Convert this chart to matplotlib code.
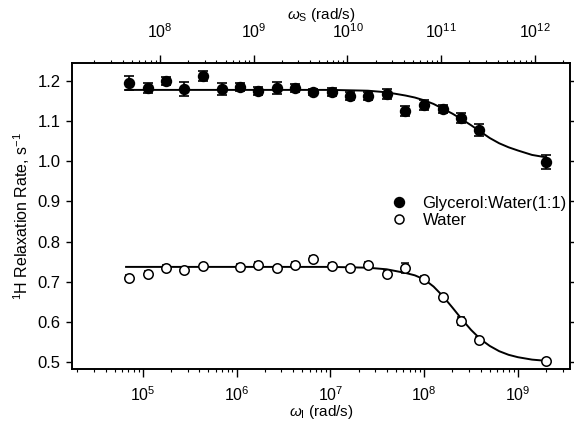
import matplotlib
matplotlib.use("Agg")
import matplotlib.pyplot as plt
from matplotlib.lines import Line2D
import numpy as np

plt.rcParams['font.family'] = ['Liberation Sans', 'DejaVu Sans']
plt.rcParams['mathtext.fontset'] = 'custom'
plt.rcParams['mathtext.rm'] = 'Liberation Sans'
plt.rcParams['mathtext.it'] = 'Liberation Sans:italic'

# ---- data ----
omega_I = [7.10e4, 1.13e5, 1.76e5, 2.74e5, 4.37e5, 6.97e5, 1.08e6, 1.69e6, 2.69e6,
           4.19e6, 6.52e6, 1.04e7, 1.62e7, 2.52e7, 4.02e7, 6.25e7, 9.98e7, 1.59e8,
           2.48e8, 3.85e8, 2.00e9]
glyc_rate = [1.195, 1.183, 1.200, 1.180, 1.212, 1.180, 1.185, 1.175, 1.183, 1.183, 1.173,
             1.173, 1.163, 1.163, 1.168, 1.125, 1.140, 1.130, 1.108, 1.078, 0.998]
glyc_err = [0.018, 0.012, 0.010, 0.017, 0.012, 0.014, 0.010, 0.010, 0.015, 0.010, 0.008,
            0.010, 0.010, 0.010, 0.012, 0.012, 0.012, 0.010, 0.013, 0.015, 0.017]

omega_I_w = [7.10e4, 1.13e5, 1.76e5, 2.74e5, 4.37e5, 1.08e6, 1.69e6, 2.69e6,
             4.19e6, 6.52e6, 1.04e7, 1.62e7, 2.52e7, 4.02e7, 6.25e7, 9.98e7, 1.59e8,
             2.48e8, 3.85e8, 2.00e9]
water_rate = [0.709, 0.719, 0.734, 0.729, 0.739, 0.737, 0.742, 0.734, 0.742, 0.757,
              0.739, 0.734, 0.742, 0.719, 0.734, 0.707, 0.662, 0.602, 0.555, 0.502]
water_err = [0.008, 0.007, 0.007, 0.008, 0.006, 0.008, 0.008, 0.006, 0.006, 0.007,
             0.007, 0.006, 0.007, 0.008, 0.013, 0.007, 0.008, 0.009, 0.008, 0.005]

# fitted curves
fit_logw = [4.82, 6.0, 7.0, 7.4, 7.6, 7.8, 7.9, 8.0, 8.1, 8.2, 8.3, 8.4, 8.5, 8.6,
            8.7, 8.8, 8.9, 9.0, 9.15, 9.3]
glyc_fit = [1.178, 1.178, 1.178, 1.176, 1.172, 1.164, 1.159, 1.152, 1.143, 1.131, 1.119,
            1.105, 1.090, 1.074, 1.058, 1.045, 1.035, 1.027, 1.016, 1.010]
water_fit = [0.737, 0.737, 0.737, 0.735, 0.731, 0.722, 0.716, 0.706, 0.688, 0.664, 0.636,
             0.607, 0.580, 0.557, 0.540, 0.527, 0.518, 0.512, 0.506, 0.503]

labels = ['Glycerol:Water(1:1)', 'Water']
ratio_S_I = 658.0
x_lim = (1.75e4, 3.59e9)
y_lim = (0.4826, 1.245)
y_ticks = [0.5, 0.6, 0.7, 0.8, 0.9, 1.0, 1.1, 1.2]

fig = plt.figure(figsize=(5.74, 4.24), dpi=100)
ax = fig.add_axes([0.1254, 0.1297, 0.993 - 0.1254, 0.8514 - 0.1297])

fit_w = [10 ** v for v in fit_logw]
ax.plot(fit_w, glyc_fit, color='black', lw=1.4, zorder=2)
ax.plot(fit_w, water_fit, color='black', lw=1.4, zorder=2)

ax.errorbar(omega_I, glyc_rate, yerr=glyc_err, fmt='o', color='black', ms=7.2,
            mfc='black', mec='black', ecolor='black', elinewidth=1.2, capsize=3.5,
            capthick=1.2, zorder=3)
ax.errorbar(omega_I_w, water_rate, yerr=water_err, fmt='o', color='black', ms=6.8,
            mfc='white', mec='black', mew=1.1, ecolor='black', elinewidth=1.0,
            capsize=3.2, capthick=1.0, zorder=3)

ax.set_xscale('log')
ax.set_xlim(*x_lim)
ax.set_ylim(*y_lim)
ax.set_yticks(y_ticks)
ax.set_yticklabels([f'{v:.1f}' for v in y_ticks])
ax.tick_params(axis='both', which='major', direction='out', length=4.5, width=1.0,
               labelsize=12, top=False, right=True, labelright=False)
ax.tick_params(axis='x', which='minor', direction='out', length=2.5, width=0.8)
ax.tick_params(axis='x', which='major', length=6, pad=6, labelsize=11.5)
for s in ax.spines.values():
    s.set_linewidth(1.2)

ax.set_xlabel(r'$\omega_\mathrm{I}$ (rad/s)', fontsize=11, labelpad=-1)
ax.set_ylabel(r'$^1$H Relaxation Rate, s$^{-1}$', fontsize=11.5, labelpad=4)

ax2 = ax.twiny()
ax2.set_xscale('log')
ax2.set_xlim(x_lim[0] * ratio_S_I, x_lim[1] * ratio_S_I)
ax2.tick_params(axis='x', which='major', direction='out', length=6, width=1.0,
                labelsize=11.5, pad=10)
ax2.tick_params(axis='x', which='minor', direction='out', length=2.5, width=0.8)
ax2.set_xlabel(r'$\omega_\mathrm{S}$ (rad/s)', fontsize=11, labelpad=2)
for s in ax2.spines.values():
    s.set_linewidth(1.2)

handles = [Line2D([], [], ls='none', marker='o', ms=7.2, mfc='black', mec='black'),
           Line2D([], [], ls='none', marker='o', ms=6.5, mfc='white', mec='black', mew=1.1)]
leg = ax.legend(handles, labels, loc='upper left', bbox_to_anchor=(0.61, 0.615),
                frameon=False, fontsize=12, handletextpad=0.9, labelspacing=0.15,
                handlelength=1.0)

fig.savefig('out.png', dpi=100)
